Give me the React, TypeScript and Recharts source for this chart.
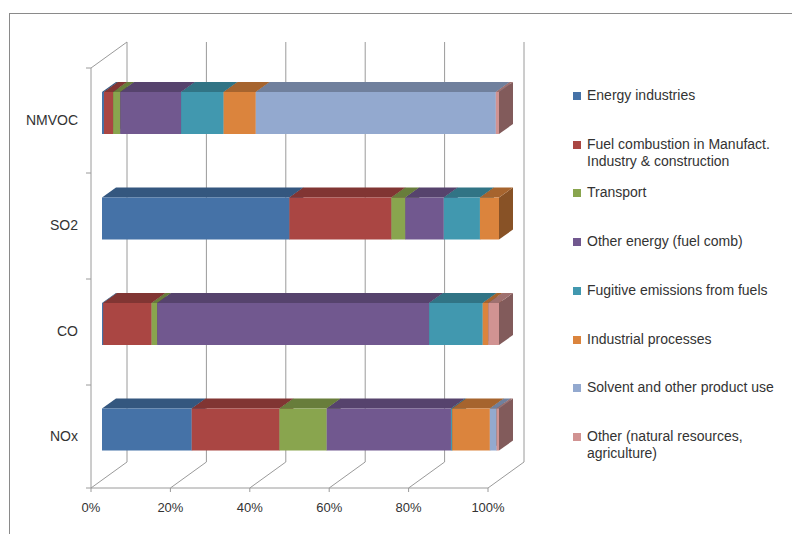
import { BarChart, Bar, XAxis, YAxis, CartesianGrid } from 'recharts'

const categories = ['NMVOC', 'SO2', 'CO', 'NOx']

const energyIndustries = [0.5, 47.2, 0.3, 22.6]
const fuelCombustion = [2.3, 25.7, 12.2, 22.1]
const transport = [1.8, 3.5, 1.4, 11.9]
const otherEnergy = [15.3, 9.7, 68.5, 31.3]
const fugitive = [10.7, 9.1, 13.5, 0.3]
const industrial = [8.1, 4.8, 1.4, 9.5]
const solvent = [60.4, 0, 0, 1.7]
const otherSources = [0.8, 0, 2.7, 0.6]

const percentTicks = [0, 0.2, 0.4, 0.6, 0.8, 1]

const series = [
  { key: 'energy', name: ['Energy industries'], color: '#4572A7', values: energyIndustries },
  { key: 'fuel', name: ['Fuel combustion in Manufact.', 'Industry & construction'], color: '#AA4643', values: fuelCombustion },
  { key: 'transport', name: ['Transport'], color: '#89A54E', values: transport },
  { key: 'otherEnergy', name: ['Other energy (fuel comb)'], color: '#71588F', values: otherEnergy },
  { key: 'fugitive', name: ['Fugitive emissions from fuels'], color: '#4198AF', values: fugitive },
  { key: 'industrial', name: ['Industrial processes'], color: '#DB843D', values: industrial },
  { key: 'solvent', name: ['Solvent and other product use'], color: '#93A9CF', values: solvent },
  { key: 'other', name: ['Other (natural resources,', 'agriculture)'], color: '#D19392', values: otherSources },
]

const data = categories.map((name, i) => {
  const row: Record<string, string | number> = { name }
  series.forEach((s) => {
    row[s.key] = s.values[i]
  })
  return row
})

const FONT = '"Liberation Sans", Arial, sans-serif'
const GRID = '#9a9a9a'
const DX = 14
const DY = 10

function shade(hex: string, f: number) {
  const n = parseInt(hex.slice(1), 16)
  const r = Math.round(((n >> 16) & 255) * f)
  const g = Math.round(((n >> 8) & 255) * f)
  const b = Math.round((n & 255) * f)
  return `rgb(${r},${g},${b})`
}

function Bar3D(props: any) {
  const { x, y, width, height, fill } = props
  if (!width || width <= 0.01) return <g />
  const top = `${x},${y} ${x + DX},${y - DY} ${x + width + DX},${y - DY} ${x + width},${y}`
  const side = `${x + width},${y} ${x + width + DX},${y - DY} ${x + width + DX},${y + height - DY} ${x + width},${y + height}`
  return (
    <g>
      <polygon points={side} fill={shade(fill, 0.62)} />
      <polygon points={top} fill={shade(fill, 0.76)} />
      <rect x={x} y={y} width={width} height={height} fill={fill} />
    </g>
  )
}

function gridLine(p: any) {
  const x = p.x1
  return (
    <g key={`grid-${p.index}-${x}`}>
      <line x1={x + 25} y1={42} x2={x + 25} y2={462} stroke={GRID} />
      <line x1={x - 11} y1={488} x2={x + 25} y2={462} stroke={GRID} />
      <line x1={x - 11} y1={488} x2={x - 11} y2={492} stroke={GRID} />
      {p.index === 0 && (
        <g stroke={GRID}>
          <line x1={x - 11} y1={68} x2={x - 11} y2={488} />
          <line x1={x - 11} y1={68} x2={x + 25} y2={42} />
          <line x1={x - 11} y1={488} x2={x - 11 + 397} y2={488} />
          {[68, 173, 279, 385, 488].map((t) => (
            <line key={t} x1={x - 16} y1={t} x2={x - 11} y2={t} />
          ))}
        </g>
      )}
    </g>
  )
}

function CategoryTick(props: any) {
  const { y, payload } = props
  return (
    <text x={78} y={y + 7} textAnchor="end" dominantBaseline="central" fontSize={14} fill="#333" fontFamily={FONT}>
      {payload.value}
    </text>
  )
}

function PercentTick(props: any) {
  const { x, payload } = props
  return (
    <text x={x - 11} y={507} textAnchor="middle" dominantBaseline="central" fontSize={13} fill="#333" fontFamily={FONT}>
      {`${Math.round(payload.value * 100)}%`}
    </text>
  )
}

export default function App() {
  return (
    <div style={{ position: 'absolute', left: 0, top: 0, width: 792, height: 534, background: '#fff', overflow: 'hidden' }}>
      <div
        style={{
          position: 'absolute',
          left: 9,
          top: 13,
          width: 800,
          height: 540,
          borderTop: '1.5px solid #8a8a8a',
          borderLeft: '1.5px solid #8a8a8a',
        }}
      />
      <BarChart
        width={792}
        height={534}
        data={data}
        layout="vertical"
        stackOffset="expand"
        barSize={42}
        margin={{ top: 60, right: 293, bottom: 0, left: 0 }}
        style={{ position: 'absolute', left: 0, top: 0 }}
      >
        <CartesianGrid horizontal={false} vertical={gridLine} />
        <XAxis
          type="number"
          domain={[0, 1]}
          ticks={percentTicks}
          height={52}
          axisLine={false}
          tickLine={false}
          tick={<PercentTick />}
        />
        <YAxis type="category" dataKey="name" width={102} axisLine={false} tickLine={false} tick={<CategoryTick />} />
        {series.map((s) => (
          <Bar key={s.key} dataKey={s.key} stackId="a" fill={s.color} shape={<Bar3D />} isAnimationActive={false} />
        ))}
      </BarChart>
      {series.map((s, i) => (
        <div
          key={s.key}
          style={{
            position: 'absolute',
            left: 573,
            top: 96 + i * 48.7 - 9,
            fontFamily: FONT,
            fontSize: 14,
            lineHeight: '17.5px',
            color: '#333',
          }}
        >
          <span
            style={{
              position: 'absolute',
              left: 0,
              top: 5,
              width: 8,
              height: 8,
              background: s.color,
            }}
          />
          <div style={{ marginLeft: 14, whiteSpace: 'nowrap' }}>
            {s.name.map((line) => (
              <div key={line}>{line}</div>
            ))}
          </div>
        </div>
      ))}
    </div>
  )
}
